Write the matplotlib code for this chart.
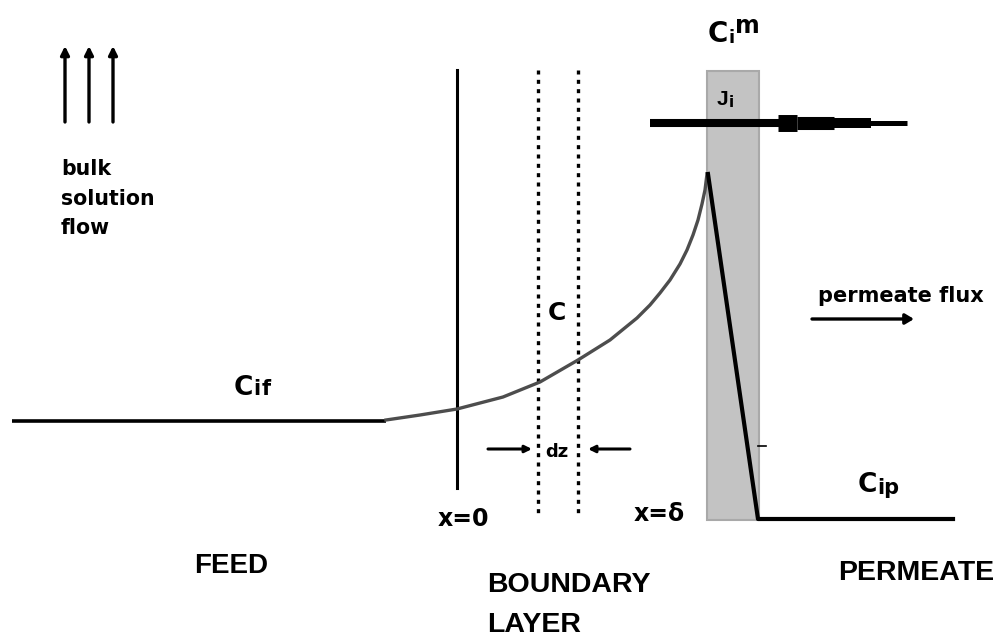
import matplotlib
matplotlib.use("Agg")
import matplotlib.pyplot as plt
from matplotlib.patches import Rectangle

plt.rcParams['font.family'] = ['Liberation Sans', 'DejaVu Sans']

# ---- data (pixel-space diagram coordinates) ----
feed_x = [12, 386]
feed_y = [421, 421]
bl_x = [386, 420, 457, 503, 540, 578, 610, 637, 650, 660, 670, 680, 687, 693, 698, 702, 705, 707]
bl_y = [420, 415, 409, 397, 382, 360, 340, 318, 305, 293, 280, 264, 250, 235, 220, 204, 190, 174]
mem_x = [708, 758, 953]
mem_y = [174, 519, 519]
membrane_left, membrane_right, membrane_top, membrane_bottom = 707, 759, 71, 520
x0_line = 457
dz_lines = [538, 578]
flow_arrows_x = [65, 89, 113]

W, H = 1001, 636
fig = plt.figure(figsize=(W / 100, H / 100), dpi=100)
ax = fig.add_axes([0, 0, 1, 1])
ax.set_xlim(0, W)
ax.set_ylim(H, 0)
ax.axis('off')

DJ = ['DejaVu Sans']
LB = ['Liberation Sans', 'DejaVu Sans']

# membrane
ax.add_patch(Rectangle((membrane_left, membrane_top), membrane_right - membrane_left,
                       membrane_bottom - membrane_top, facecolor='#c3c3c3',
                       edgecolor='#a9a9a9', lw=1.5, zorder=1))

# concentration profile
ax.plot(feed_x, feed_y, color='black', lw=2.6, solid_capstyle='butt', zorder=3)
ax.plot(bl_x, bl_y, color='#4d4d4d', lw=2.4, zorder=3)
ax.plot(mem_x, mem_y, color='black', lw=3.0, zorder=3)

# x=0 line and dz dotted lines
ax.plot([x0_line, x0_line], [70, 488], color='black', lw=2.2, zorder=2)
for xd in dz_lines:
    ax.plot([xd, xd], [70, 518], color='black', lw=2.4, linestyle=(0, (1.2, 1.6)), zorder=2)

# bulk flow arrows
for xa in flow_arrows_x:
    ax.annotate('', xy=(xa, 46), xytext=(xa, 122),
                arrowprops=dict(arrowstyle='-|>,head_length=0.5,head_width=0.25',
                                color='black', lw=2.4, shrinkA=0, shrinkB=0))

# J_i thick arrow at y=123
ya = 123
for x1, x2, lw in [(650, 779, 5.8), (778, 797, 12.2), (797, 834, 9.4),
                   (833, 871, 7.2), (870, 907, 3.6)]:
    ax.plot([x1, x2], [ya, ya], color='black', lw=lw, solid_capstyle='butt', zorder=4)

# permeate flux arrow
ax.annotate('', xy=(914, 319), xytext=(812, 319),
            arrowprops=dict(arrowstyle='-|>,head_length=0.5,head_width=0.3',
                            color='black', lw=2.4, shrinkA=0, shrinkB=0))

# dz arrows
ax.annotate('', xy=(532, 449), xytext=(488, 449),
            arrowprops=dict(arrowstyle='-|>,head_length=0.4,head_width=0.2',
                            color='black', lw=2.2, shrinkA=0, shrinkB=0))
ax.annotate('', xy=(588, 449), xytext=(630, 449),
            arrowprops=dict(arrowstyle='-|>,head_length=0.4,head_width=0.2',
                            color='black', lw=2.2, shrinkA=0, shrinkB=0))
ax.text(557, 452, 'dz', fontsize=13, fontweight='bold', ha='center', va='center', family=DJ)

# small tick
ax.plot([758, 766], [446, 446], color='black', lw=1.2)

# texts
ax.text(61, 175, 'bulk', fontsize=14.8, fontweight='bold', ha='left', va='baseline', family=DJ)
ax.text(61, 205, 'solution', fontsize=14.8, fontweight='bold', ha='left', va='baseline', family=DJ)
ax.text(61, 234, 'flow', fontsize=14.8, fontweight='bold', ha='left', va='baseline', family=DJ)

ax.text(708, 42, 'C', fontsize=20, fontweight='bold', ha='left', va='baseline', family=DJ)
ax.text(728, 43, 'i', fontsize=13, fontweight='bold', ha='left', va='baseline', family=DJ)
ax.text(735, 33, 'm', fontsize=17, fontweight='bold', ha='left', va='baseline', family=DJ)

ax.text(717, 105, 'J', fontsize=15, fontweight='bold', ha='left', va='baseline', family=LB)
ax.text(729, 107, 'i', fontsize=11, fontweight='bold', ha='left', va='baseline', family=DJ)

ax.text(548, 320, 'C', fontsize=18, fontweight='bold', ha='left', va='baseline', family=DJ)

ax.text(818, 302, 'permeate flux', fontsize=15, fontweight='bold', ha='left', va='baseline', family=DJ)

ax.text(234, 395, 'C', fontsize=19, fontweight='bold', ha='left', va='baseline', family=DJ)
ax.text(253, 395, 'i', fontsize=15, fontweight='bold', ha='left', va='baseline', family=DJ)
ax.text(262, 395, 'f', fontsize=15, fontweight='bold', ha='left', va='baseline', family=DJ)

ax.text(858, 492, 'C', fontsize=19, fontweight='bold', ha='left', va='baseline', family=DJ)
ax.text(877, 494, 'ip', fontsize=15, fontweight='bold', ha='left', va='baseline', family=DJ)

ax.text(438, 526, 'x=0', fontsize=17, fontweight='bold', ha='left', va='baseline', family=DJ)
ax.text(634, 521, 'x=δ', fontsize=17, fontweight='bold', ha='left', va='baseline', family=DJ)

ax.text(194, 573, 'FEED', fontsize=20, fontweight='bold', ha='left', va='baseline', family=LB)
ax.text(487, 592, 'BOUNDARY', fontsize=20.5, fontweight='bold', ha='left', va='baseline', family=LB)
ax.text(487, 632, 'LAYER', fontsize=20.5, fontweight='bold', ha='left', va='baseline', family=LB)
ax.text(838, 580, 'PERMEATE', fontsize=20.5, fontweight='bold', ha='left', va='baseline', family=LB)

fig.savefig('out.png', dpi=100)
